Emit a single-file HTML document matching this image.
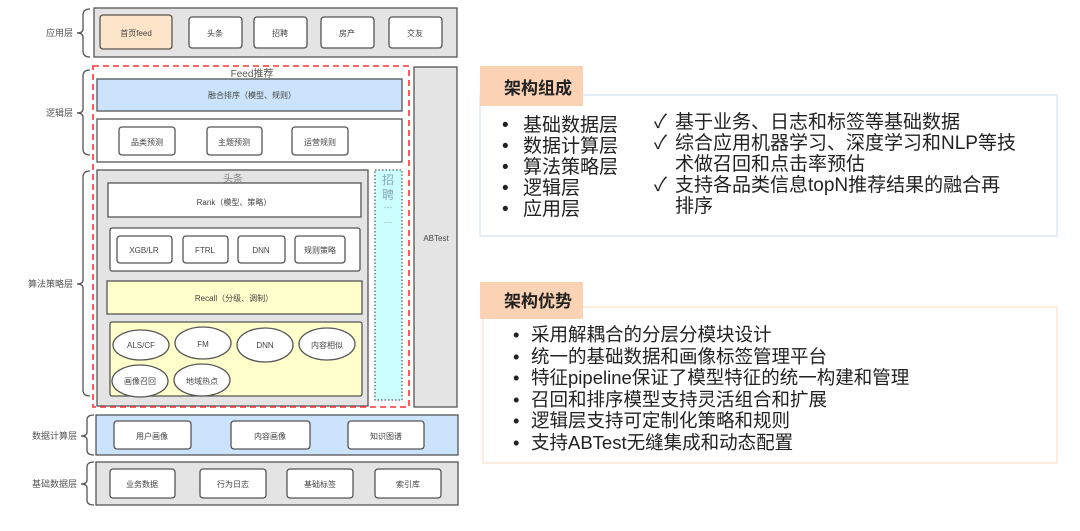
<!DOCTYPE html>
<html><head><meta charset="utf-8"><style>
body{margin:0;background:#fff;width:1080px;height:526px;overflow:hidden}
svg text{font-family:"Liberation Sans","Noto Sans CJK SC",sans-serif}
</style></head><body>
<svg width="1080" height="526" viewBox="0 0 1080 526" xmlns="http://www.w3.org/2000/svg">
<g fill="none" stroke="#555" stroke-width="1.3">
<path d="M90,9 Q83,9 83,15 L83,29 Q83,33 77,33 Q83,33 83,37 L83,51 Q83,57 90,57"/>
<path d="M90,70 Q83,70 83,76 L83,109 Q83,113 77,113 Q83,113 83,117 L83,149 Q83,155 90,155"/>
<path d="M90,171 Q83,171 83,177 L83,280 Q83,284 77,284 Q83,284 83,288 L83,390 Q83,396 90,396"/>
<path d="M94,415 Q87,415 87,420 L87,432 Q87,436 81,436 Q87,436 87,440 L87,450 Q87,455 94,455"/>
<path d="M94,462 Q87,462 87,467 L87,480 Q87,484 81,484 Q87,484 87,488 L87,500 Q87,505 94,505"/>
</g>
<g font-size="9" fill="#555" text-anchor="end">
<text x="73" y="36">应用层</text><text x="73" y="116">逻辑层</text>
<text x="73" y="287">算法策略层</text><text x="77" y="439">数据计算层</text><text x="77" y="487">基础数据层</text>
</g>
<g stroke="#555" stroke-width="1.3">
<rect x="94" y="8" width="363" height="49" fill="#e4e4e4"/>
<rect x="100" y="15" width="72" height="34" rx="3" fill="#fde3c8"/>
<rect x="189" y="17" width="53" height="31" rx="3" fill="#fff"/>
<rect x="254" y="17" width="53" height="31" rx="3" fill="#fff"/>
<rect x="321" y="17" width="53" height="31" rx="3" fill="#fff"/>
<rect x="389" y="17" width="53" height="31" rx="3" fill="#fff"/>
<rect x="414" y="67" width="43" height="340" fill="#e4e4e4"/>
<rect x="97" y="79" width="305" height="32" fill="#cce4fb"/>
<rect x="97" y="119" width="305" height="43" fill="#fff"/>
<rect x="119" y="127" width="56" height="28" rx="3" fill="#fff"/>
<rect x="207" y="127" width="55" height="28" rx="3" fill="#fff"/>
<rect x="292" y="127" width="56" height="28" rx="3" fill="#fff"/>
<rect x="97" y="170" width="271" height="236" fill="#e4e4e4"/>
<rect x="108" y="183" width="253" height="34" fill="#fff"/>
<rect x="110" y="228" width="250" height="43" rx="2" fill="#fff"/>
<rect x="117" y="236" width="55" height="27" rx="3" fill="#fff"/>
<rect x="183" y="236" width="45" height="27" rx="3" fill="#fff"/>
<rect x="238" y="236" width="47" height="27" rx="3" fill="#fff"/>
<rect x="295" y="236" width="50" height="27" rx="3" fill="#fff"/>
<rect x="107" y="281" width="255" height="33" fill="#ffffcc"/>
<rect x="110" y="322" width="252" height="74" rx="2" fill="#ffffcc"/>
<ellipse cx="141" cy="345" rx="28" ry="15" fill="#fff"/>
<ellipse cx="203" cy="343" rx="28" ry="16" fill="#fff"/>
<ellipse cx="265" cy="345" rx="28" ry="17" fill="#fff"/>
<ellipse cx="327" cy="344" rx="28" ry="16" fill="#fff"/>
<ellipse cx="140" cy="381" rx="28" ry="16" fill="#fff"/>
<ellipse cx="202" cy="380" rx="28" ry="16" fill="#fff"/>
<rect x="96" y="415" width="362" height="40" fill="#cce4fb"/>
<rect x="114" y="421" width="77" height="28" rx="3" fill="#fff"/>
<rect x="231" y="421" width="79" height="28" rx="3" fill="#fff"/>
<rect x="348" y="421" width="76" height="28" rx="3" fill="#fff"/>
<rect x="96" y="462" width="362" height="43" fill="#e4e4e4"/>
<rect x="110" y="469" width="65" height="29" rx="3" fill="#fff"/>
<rect x="200" y="469" width="66" height="29" rx="3" fill="#fff"/>
<rect x="287" y="469" width="66" height="29" rx="3" fill="#fff"/>
<rect x="375" y="469" width="66" height="29" rx="3" fill="#fff"/>
</g>
<rect x="375" y="170" width="27" height="230" fill="#ccffff" stroke="#555" stroke-width="1.2" stroke-dasharray="1.5,2"/>
<rect x="93" y="66" width="316" height="341" fill="none" stroke="#f33" stroke-width="1.6" stroke-dasharray="6,4"/>
<g font-size="8" fill="#444" text-anchor="middle">
<text x="136" y="36">首页feed</text><text x="215" y="36">头条</text><text x="280" y="36">招聘</text><text x="347" y="36">房产</text><text x="415" y="36">交友</text>
<text x="436" y="241">ABTest</text>
<text x="252" y="98">融合排序（模型、规则）</text>
<text x="147" y="145">品类预测</text><text x="234" y="145">主题预测</text><text x="320" y="145">运营规则</text>
<text x="234" y="205">Rank（模型、策略）</text>
<text x="144" y="253">XGB/LR</text><text x="205" y="253">FTRL</text><text x="261" y="253">DNN</text><text x="320" y="253">规则策略</text>
<text x="234" y="301">Recall（分级、调制）</text>
<text x="141" y="348">ALS/CF</text><text x="203" y="347">FM</text><text x="265" y="348">DNN</text><text x="327" y="348">内容相似</text>
<text x="140" y="384">画像召回</text><text x="202" y="384">地域热点</text>
<text x="152" y="439">用户画像</text><text x="270" y="439">内容画像</text><text x="386" y="439">知识图谱</text>
<text x="142" y="487">业务数据</text><text x="233" y="487">行为日志</text><text x="320" y="487">基础标签</text><text x="408" y="487">索引库</text>
</g>
<text x="252" y="77" font-size="10" fill="#555" text-anchor="middle">Feed推荐</text>
<text x="233" y="182" font-size="10" fill="#888" text-anchor="middle">头条</text>
<g font-size="12" fill="#8ab" text-anchor="middle"><text x="388" y="184">招</text><text x="388" y="199">聘</text>
<text x="388" y="211" font-size="9">⋯</text><text x="388" y="226" font-size="9">⋯</text></g>

<rect x="480" y="95" width="577" height="141" fill="#fff" stroke="#dce8f5" stroke-width="1.5"/>
<rect x="480" y="66" width="103" height="40" fill="#fbd3b4"/>
<text x="504" y="94" font-size="17" font-weight="bold" fill="#222">架构组成</text>
<g font-size="19" fill="#222">
<text x="502" y="131">•</text><text x="502" y="152">•</text><text x="502" y="173">•</text><text x="502" y="194">•</text><text x="502" y="215">•</text>
<text x="523" y="131">基础数据层</text><text x="523" y="152">数据计算层</text><text x="523" y="173">算法策略层</text><text x="523" y="194">逻辑层</text><text x="523" y="215">应用层</text>
<text x="654" y="128">✓</text><text x="675" y="128">基于业务、日志和标签等基础数据</text>
<text x="654" y="149">✓</text><text x="675" y="149">综合应用机器学习、深度学习和NLP等技</text>
<text x="675" y="170">术做召回和点击率预估</text>
<text x="654" y="191">✓</text><text x="675" y="191">支持各品类信息topN推荐结果的融合再</text>
<text x="675" y="212">排序</text>
</g>
<rect x="483" y="307" width="574" height="156" fill="#fff" stroke="#fde6d6" stroke-width="1.5"/>
<rect x="480" y="282" width="103" height="37" fill="#fbd3b4"/>
<text x="504" y="307" font-size="17" font-weight="bold" fill="#222">架构优势</text>
<g font-size="18.5" fill="#222">
<text x="513" y="341">•</text><text x="513" y="363">•</text><text x="513" y="384">•</text><text x="513" y="406">•</text><text x="513" y="427">•</text><text x="513" y="449">•</text>
<text x="531" y="341">采用解耦合的分层分模块设计</text>
<text x="531" y="363">统一的基础数据和画像标签管理平台</text>
<text x="531" y="384">特征pipeline保证了模型特征的统一构建和管理</text>
<text x="531" y="406">召回和排序模型支持灵活组合和扩展</text>
<text x="531" y="427">逻辑层支持可定制化策略和规则</text>
<text x="531" y="449">支持ABTest无缝集成和动态配置</text>
</g>
</svg>
</body></html>
